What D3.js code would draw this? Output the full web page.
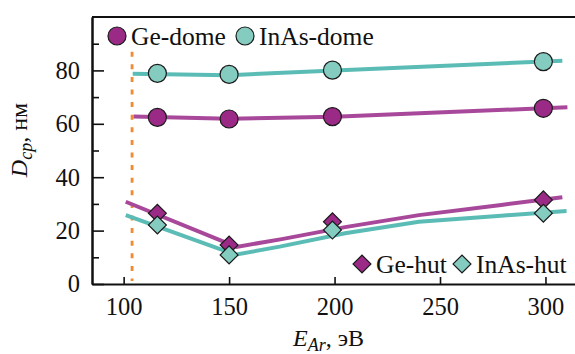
<!DOCTYPE html>
<html>
<head>
<meta charset="utf-8">
<script src="https://cdnjs.cloudflare.com/ajax/libs/d3/7.8.5/d3.min.js"></script>
<style>
  body { margin: 0; background: #fff; }
  text { font-family: "Liberation Serif", "Times New Roman", Tinos, "DejaVu Serif", serif; fill: #111; }
</style>
</head>
<body>
<div id="chart"></div>
<script>

// Data
var energies = [116, 150, 199, 299];
var geDome = [62.4, 61.8, 62.7, 65.8];
var inasDome = [78.9, 78.5, 80.1, 83.3];
var geHut = [26.5, 14.6, 23.3, 31.5];
var inasHut = [22.1, 10.9, 20.2, 26.5];

// Trend lines drawn through the points (x, y)
var geDomeLine = [[104.7, 62.7], [150, 61.9], [200, 62.6], [310.4, 66.2]];
var inasDomeLine = [[104.3, 78.7], [150, 78.2], [200, 80.0], [308, 83.6]];
var geHutLine = [[101, 30.8], [153.5, 13.9], [175, 16.8], [205, 21.3], [240, 25.8], [279, 29.6], [308, 32.5]];
var inasHutLine = [[101, 25.8], [153, 11.0], [174, 14.0], [205, 19.0], [240, 23.3], [279, 25.6], [310, 27.3]];

var thresholdEnergy = 104;
var thresholdTop = 87;

var xTicks = [100, 150, 200, 250, 300];
var yTicks = [0, 20, 40, 60, 80];
var yMinorTicks = [10, 30, 50, 70, 90];

// --> CREATE SVG DRAWING AREA
var width = 575,
    height = 354;

var margin = {left: 92, top: 17, right: 0, bottom: 70};

var serif = '"Liberation Serif", "Times New Roman", Tinos, "DejaVu Serif", serif';

var purpleFill = "#9b2a87",
    purpleLine = "#a8489a",
    tealFill = "#84cbc0",
    tealLine = "#5bbcb6",
    markerStroke = "#1b1b1b";

var svg = d3.select("#chart").append("svg")
    .attr("width", width)
    .attr("height", height);

var x = d3.scaleLinear()
    .domain([85, 314])
    .range([margin.left, width]);

var y = d3.scaleLinear()
    .domain([0, 100])
    .range([height - margin.bottom, margin.top]);

// Axes (ticks pointing inward)
var xAxis = d3.axisBottom(x)
    .tickValues(xTicks)
    .tickSizeInner(-7)
    .tickSizeOuter(0)
    .tickPadding(14);

var yAxis = d3.axisLeft(y)
    .tickValues(yTicks)
    .tickSizeInner(-12)
    .tickSizeOuter(0)
    .tickPadding(12);

var yMinor = d3.axisLeft(y)
    .tickValues(yMinorTicks)
    .tickSizeInner(-7)
    .tickSizeOuter(0)
    .tickFormat("");

var gx = svg.append("g")
    .attr("transform", "translate(0," + y(0) + ")")
    .call(xAxis);

var gy = svg.append("g")
    .attr("transform", "translate(" + margin.left + ",0)")
    .call(yAxis);

svg.append("g")
    .attr("transform", "translate(" + margin.left + ",0)")
    .call(yMinor);

svg.selectAll(".domain")
    .attr("stroke", "#111")
    .attr("stroke-width", 2);

svg.selectAll(".tick line")
    .attr("stroke", "#111")
    .attr("stroke-width", 1.6);

svg.selectAll("g")
    .attr("font-family", null);

svg.selectAll(".tick text")
    .style("font-family", serif)
    .style("font-size", "24.5px")
    .attr("fill", "#111");

// top frame line
svg.append("line")
    .attr("x1", margin.left)
    .attr("x2", width)
    .attr("y1", y(100))
    .attr("y2", y(100))
    .attr("stroke", "#111")
    .attr("stroke-width", 2);

// Dashed threshold line
svg.append("line")
    .attr("x1", x(thresholdEnergy))
    .attr("x2", x(thresholdEnergy))
    .attr("y1", y(thresholdTop))
    .attr("y2", y(0) - 3)
    .attr("stroke", "#f08a33")
    .attr("stroke-width", 2.8)
    .attr("stroke-dasharray", "5,7.6");

// Trend lines
var line = d3.line()
    .x(function(d) { return x(d[0]); })
    .y(function(d) { return y(d[1]); });

var lines = [
  {pts: inasDomeLine, color: tealLine},
  {pts: geDomeLine, color: purpleLine},
  {pts: geHutLine, color: purpleLine},
  {pts: inasHutLine, color: tealLine}
];

svg.selectAll(".trend")
    .data(lines)
    .enter().append("path")
    .attr("class", "trend")
    .attr("d", function(d) { return line(d.pts); })
    .attr("fill", "none")
    .attr("stroke", function(d) { return d.color; })
    .attr("stroke-width", 4);

// Markers
var diamond = d3.symbol().type(d3.symbolSquare).size(160);

function drawCircles(values, color) {
  svg.append("g").selectAll("circle")
      .data(values)
      .enter().append("circle")
      .attr("cx", function(d, i) { return x(energies[i]); })
      .attr("cy", function(d) { return y(d); })
      .attr("r", 9)
      .attr("fill", color)
      .attr("stroke", markerStroke)
      .attr("stroke-width", 1.2);
}

function drawDiamonds(values, color) {
  svg.append("g").selectAll("path")
      .data(values)
      .enter().append("path")
      .attr("d", diamond)
      .attr("transform", function(d, i) {
        return "translate(" + x(energies[i]) + "," + y(d) + ") rotate(45)";
      })
      .attr("fill", color)
      .attr("stroke", markerStroke)
      .attr("stroke-width", 1.2);
}

drawCircles(geDome, purpleFill);
drawCircles(inasDome, tealFill);
drawDiamonds(geHut, purpleFill);
drawDiamonds(inasHut, tealFill);

// Legends
function legendItem(cx, cy, label, color, shape) {
  if (shape == "circle") {
    svg.append("circle")
        .attr("cx", cx)
        .attr("cy", cy)
        .attr("r", 9)
        .attr("fill", color)
        .attr("stroke", markerStroke)
        .attr("stroke-width", 1.2);
  }
  else {
    svg.append("path")
        .attr("d", diamond)
        .attr("transform", "translate(" + cx + "," + cy + ") rotate(45)")
        .attr("fill", color)
        .attr("stroke", markerStroke)
        .attr("stroke-width", 1.2);
  }
  svg.append("text")
      .attr("x", cx + 14)
      .attr("y", cy + 9)
      .style("font-family", serif)
      .style("font-size", "25.5px")
      .text(label);
}

legendItem(117, 36, "Ge-dome", purpleFill, "circle");
legendItem(245, 36, "InAs-dome", tealFill, "circle");
legendItem(362, 264, "Ge-hut", purpleFill, "diamond");
legendItem(462, 264, "InAs-hut", tealFill, "diamond");

// Axis titles
var yTitle = svg.append("text")
    .attr("transform", "translate(27,140) rotate(-90)")
    .attr("text-anchor", "middle")
    .style("font-family", serif)
    .style("font-size", "24px");

yTitle.append("tspan").style("font-style", "italic").text("D");
yTitle.append("tspan").style("font-style", "italic").style("font-size", "18px")
    .attr("dy", 5).text("cp");
yTitle.append("tspan").attr("dy", -5).text(", нм");

var xTitle = svg.append("text")
    .attr("x", 293)
    .attr("y", 346)
    .style("font-family", serif)
    .style("font-size", "24px");

xTitle.append("tspan").style("font-style", "italic").text("E");
xTitle.append("tspan").style("font-style", "italic").style("font-size", "18px")
    .attr("dy", 5).text("Ar");
xTitle.append("tspan").attr("dy", -5).text(", эВ");

</script>
</body>
</html>
